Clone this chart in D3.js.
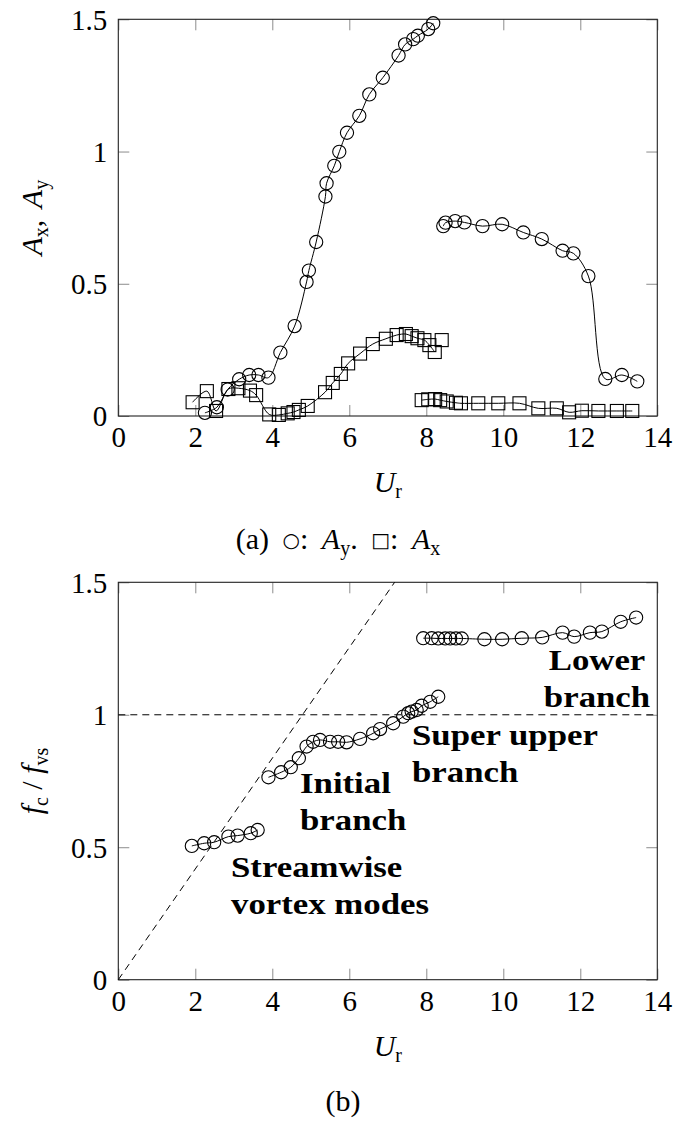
<!DOCTYPE html>
<html>
<head>
<meta charset="utf-8">
<script src="https://cdn.jsdelivr.net/npm/d3@7"></script>
<style>
  body { margin: 0; background: #fff; }
  svg { display: block; }
  text { font-family: "Liberation Serif", serif; fill: #000; }
</style>
</head>
<body>
<svg id="fig" width="674" height="1121"></svg>
<script>
// ---- (a) amplitudes ----
// A_y, first branch
const ayU1 = [2.25, 2.56, 2.84, 3.14, 3.40, 3.64, 3.90, 4.21, 4.58, 4.89, 4.95, 5.14, 5.38, 5.41, 5.61, 5.74, 5.94, 6.26, 6.52, 6.87, 7.28, 7.45, 7.66, 7.78, 8.05, 8.18];
const ayA1 = [0.012, 0.033, 0.100, 0.139, 0.155, 0.155, 0.145, 0.240, 0.340, 0.507, 0.550, 0.658, 0.830, 0.880, 0.946, 0.999, 1.071, 1.135, 1.216, 1.279, 1.363, 1.405, 1.425, 1.438, 1.463, 1.485];
// A_y, second branch
const ayU2 = [8.44, 8.50, 8.75, 8.99, 9.46, 9.97, 10.52, 11.00, 11.54, 11.82, 12.21, 12.65, 13.08, 13.48];
const ayA2 = [0.718, 0.731, 0.737, 0.732, 0.718, 0.725, 0.694, 0.669, 0.625, 0.615, 0.529, 0.140, 0.155, 0.131];
// A_x, first branch
const axU1 = [1.93, 2.30, 2.54, 2.86, 3.12, 3.42, 3.58, 3.92, 4.17, 4.40, 4.55, 4.69, 4.92, 5.37, 5.57, 5.78, 5.97, 6.28, 6.61, 6.95, 7.23, 7.47, 7.62, 7.77, 7.95, 8.08, 8.22];
const axA1 = [0.052, 0.094, 0.019, 0.102, 0.105, 0.096, 0.079, 0.006, 0.004, 0.010, 0.015, 0.023, 0.038, 0.090, 0.125, 0.159, 0.199, 0.236, 0.272, 0.292, 0.306, 0.310, 0.302, 0.294, 0.287, 0.268, 0.242];
// A_x, isolated sample at the end of the first branch
const axLooseU = [8.40];
const axLooseA = [0.287];
// A_x, second branch
const axU2 = [7.88, 8.05, 8.23, 8.36, 8.53, 8.77, 8.90, 9.35, 9.87, 10.42, 10.91, 11.39, 11.71, 12.04, 12.47, 12.95, 13.35];
const axA2 = [0.060, 0.063, 0.064, 0.060, 0.055, 0.050, 0.048, 0.048, 0.048, 0.048, 0.029, 0.029, 0.014, 0.020, 0.019, 0.019, 0.019];

// ---- (b) frequency ratio ----
const streamU = [1.91, 2.23, 2.49, 2.86, 3.10, 3.44, 3.62];
const streamF = [0.505, 0.515, 0.519, 0.540, 0.544, 0.553, 0.565];
const branchU = [3.90, 4.23, 4.48, 4.69, 4.89, 5.06, 5.24, 5.50, 5.71, 5.93, 6.28, 6.62, 6.80, 7.14, 7.40, 7.53, 7.62, 7.75, 7.88, 8.10, 8.31];
const branchF = [0.764, 0.783, 0.802, 0.836, 0.880, 0.898, 0.905, 0.898, 0.898, 0.896, 0.909, 0.930, 0.946, 0.968, 0.993, 1.006, 1.012, 1.018, 1.034, 1.049, 1.068];
const lowerU = [7.92, 8.14, 8.31, 8.49, 8.62, 8.77, 8.92, 9.51, 9.97, 10.48, 11.01, 11.54, 11.84, 12.25, 12.56, 13.05, 13.45];
const lowerF = [1.289, 1.289, 1.288, 1.288, 1.288, 1.288, 1.288, 1.285, 1.285, 1.289, 1.292, 1.310, 1.295, 1.310, 1.314, 1.351, 1.367];
// reference lines: f_c/f_vs = 1 and f_c = f_n (slope in U_r)
const unitRatio = 1;
const naturalSlope = 0.209;

// ---- axes ----
const xTicks = [0, 2, 4, 6, 8, 10, 12, 14];
const yTicks = [0, 0.5, 1, 1.5];
const yTickLabels = ["0", "0.5", "1", "1.5"];

const svg = d3.select("#fig");
const L = 118.3, R = 657.3;
const curve = d3.curveCatmullRom.alpha(0.5);

function panel(top, bottom) {
  const x = d3.scaleLinear().domain([0, 14]).range([L, R]);
  const y = d3.scaleLinear().domain([0, 1.5]).range([bottom, top]);
  const g = svg.append("g");
  const tickLen = 11;
  const tickColor = "#8c8c8c";

  // bottom axis with labels, ticks pointing inward
  const ax = g.append("g").attr("transform", `translate(0,${bottom})`)
    .call(d3.axisBottom(x).tickValues(xTicks).tickSizeInner(-tickLen).tickSizeOuter(0).tickPadding(12).tickFormat(d3.format("d")));
  ax.select(".domain").remove();
  ax.selectAll("line").attr("stroke", tickColor);
  ax.selectAll("text").attr("font-size", 29).attr("font-family", "Liberation Serif").attr("dy", "0.66em").attr("fill", "#000");

  const axT = g.append("g").attr("transform", `translate(0,${top})`)
    .call(d3.axisTop(x).tickValues(xTicks).tickSizeInner(-tickLen).tickSizeOuter(0).tickFormat(""));
  axT.select(".domain").remove();
  axT.selectAll("line").attr("stroke", tickColor);

  const ay = g.append("g").attr("transform", `translate(${L},0)`)
    .call(d3.axisLeft(y).tickValues(yTicks).tickSizeInner(-tickLen).tickSizeOuter(0).tickPadding(11)
      .tickFormat((d, i) => yTickLabels[i]));
  ay.select(".domain").remove();
  ay.selectAll("line").attr("stroke", tickColor);
  ay.selectAll("text").attr("font-size", 29).attr("font-family", "Liberation Serif").attr("dy", "0.34em").attr("fill", "#000");

  const ayR = g.append("g").attr("transform", `translate(${R},0)`)
    .call(d3.axisRight(y).tickValues(yTicks).tickSizeInner(-tickLen).tickSizeOuter(0).tickFormat(""));
  ayR.select(".domain").remove();
  ayR.selectAll("line").attr("stroke", tickColor);

  // frame
  g.append("rect").attr("x", L).attr("y", top).attr("width", R - L).attr("height", bottom - top)
    .attr("fill", "none").attr("stroke", "#222").attr("stroke-width", 1.1);

  // x-axis title U_r
  const t = g.append("text").attr("x", (L + R) / 2).attr("y", bottom + 76).attr("text-anchor", "middle").attr("font-size", 30);
  t.append("tspan").attr("font-style", "italic").text("U");
  t.append("tspan").attr("font-size", 20).attr("dy", 6).text("r");

  return { g, x, y };
}

function series(p, us, vs, marker, withLine) {
  const pts = us.map((u, i) => [p.x(u), p.y(vs[i])]);
  if (withLine) {
    p.g.append("path").attr("d", d3.line().curve(curve)(pts))
      .attr("fill", "none").attr("stroke", "#000").attr("stroke-width", 1);
  }
  if (marker === "circle") {
    p.g.selectAll(null).data(pts).join("circle")
      .attr("cx", d => d[0]).attr("cy", d => d[1]).attr("r", 6.6)
      .attr("fill", "none").attr("stroke", "#000").attr("stroke-width", 1.1);
  } else {
    const s = 13;
    p.g.selectAll(null).data(pts).join("rect")
      .attr("x", d => d[0] - s / 2).attr("y", d => d[1] - s / 2).attr("width", s).attr("height", s)
      .attr("fill", "none").attr("stroke", "#000").attr("stroke-width", 1.1);
  }
}

// ---------- panel (a) ----------
const pa = panel(19.3, 416);
series(pa, axU1, axA1, "square", true);
series(pa, axLooseU, axLooseA, "square", false);
series(pa, axU2, axA2, "square", true);
series(pa, ayU1, ayA1, "circle", true);
series(pa, ayU2, ayA2, "circle", true);

// y-axis title: A_x, A_y
{
  const t = svg.append("text").attr("transform", `translate(42,${(19.3 + 416) / 2}) rotate(-90)`)
    .attr("text-anchor", "middle").attr("font-size", 30).attr("word-spacing", 4);
  t.append("tspan").attr("font-style", "italic").text("A");
  t.append("tspan").attr("font-size", 20).attr("dy", 6).text("x");
  t.append("tspan").attr("dy", -6).text(", ");
  t.append("tspan").attr("font-style", "italic").text("A");
  t.append("tspan").attr("font-size", 20).attr("dy", 6).text("y");
}

// caption (a)
{
  const t = svg.append("text").attr("x", 338).attr("y", 549).attr("text-anchor", "middle")
    .attr("font-size", 30).attr("word-spacing", 6);
  t.append("tspan").text("(a) ");
  t.append("tspan").attr("font-family", "DejaVu Sans").attr("font-size", 20).attr("dy", -2).text("○");
  t.append("tspan").attr("dy", 2).text(": ");
  t.append("tspan").attr("font-style", "italic").text("A");
  t.append("tspan").attr("font-size", 20).attr("dy", 6).text("y");
  t.append("tspan").attr("dy", -6).text(". ");
  t.append("tspan").attr("font-family", "DejaVu Sans").attr("font-size", 20).attr("dy", -2).text("□");
  t.append("tspan").attr("dy", 2).text(": ");
  t.append("tspan").attr("font-style", "italic").text("A");
  t.append("tspan").attr("font-size", 20).attr("dy", 6).text("x");
}

// ---------- panel (b) ----------
const pb = panel(582.3, 979.7);
{
  // reference lines
  const dash = "7,5";
  pb.g.append("line").attr("x1", pb.x(0)).attr("x2", pb.x(14)).attr("y1", pb.y(unitRatio)).attr("y2", pb.y(unitRatio))
    .attr("stroke", "#000").attr("stroke-width", 1).attr("stroke-dasharray", dash);
  const uTop = 1.5 / naturalSlope;
  pb.g.append("line").attr("x1", pb.x(0)).attr("y1", pb.y(0)).attr("x2", pb.x(uTop)).attr("y2", pb.y(naturalSlope * uTop))
    .attr("stroke", "#000").attr("stroke-width", 1).attr("stroke-dasharray", dash);
}
series(pb, streamU, streamF, "circle", true);
series(pb, branchU, branchF, "circle", true);
series(pb, lowerU, lowerF, "circle", true);

// y-axis title: f_c / f_vs
{
  const t = svg.append("text").attr("transform", `translate(42,${(582.3 + 979.7) / 2}) rotate(-90)`)
    .attr("text-anchor", "middle").attr("font-size", 30);
  t.append("tspan").attr("font-style", "italic").text("f");
  t.append("tspan").attr("font-size", 20).attr("dy", 6).text("c");
  t.append("tspan").attr("dy", -6).text(" / ");
  t.append("tspan").attr("font-style", "italic").text("f");
  t.append("tspan").attr("font-size", 20).attr("dy", 6).text("vs");
}

// regime annotations (bold, horizontally widened lettering)
function note(lines, x, y0, anchor) {
  const g = svg.append("g").attr("transform", `translate(${x},${y0}) scale(1.16,1)`);
  const t = g.append("text").attr("font-weight", "bold").attr("font-size", 30).attr("text-anchor", anchor);
  lines.forEach((s, i) => t.append("tspan").attr("x", 0).attr("y", i * 37).text(s));
}
note(["Lower", "branch"], 597, 670, "middle");
note(["Super upper", "branch"], 412, 745, "start");
note(["Initial", "branch"], 300, 793, "start");
note(["Streamwise", "vortex modes"], 231, 877, "start");

// caption (b)
svg.append("text").attr("x", 343).attr("y", 1111).attr("text-anchor", "middle").attr("font-size", 30).text("(b)");
</script>
</body>
</html>
